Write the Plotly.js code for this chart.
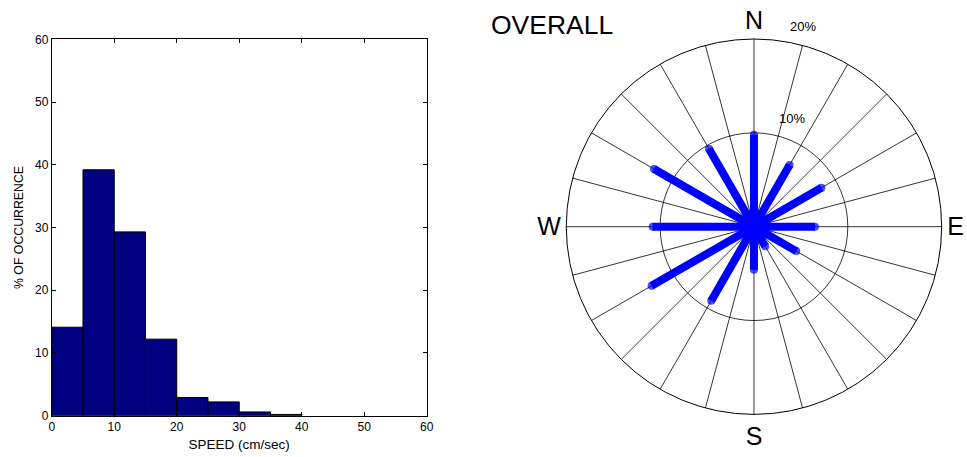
<!DOCTYPE html>
<html><head><meta charset="utf-8">
<script src="https://cdn.plot.ly/plotly-3.0.1.min.js"></script>
<style>html,body{margin:0;padding:0;background:#fff}#chart{width:967px;height:457px}</style>
</head><body><div id="chart"></div>
<script>
// Speed histogram (bin centres, cm/sec) and % of occurrence
const speedBinCenters = [2.5, 7.5, 12.5, 17.5, 22.5, 27.5, 32.5, 37.5];
const speedPercent    = [14.1, 39.2, 29.3, 12.2, 2.9, 2.2, 0.6, 0.2];
const speedTicks = [0, 10, 20, 30, 40, 50, 60];
const pctTicks   = [0, 10, 20, 30, 40, 50, 60];

// Direction rose (degrees clockwise from North) and % of occurrence
const dirAngles  = [0, 30, 60, 90, 120, 150, 180, 210, 240, 270, 300, 330];
const dirPercent = [9.8, 7.6, 8.3, 6.5, 5.2, 2.4, 4.6, 9.1, 12.6, 10.8, 12.3, 9.6];
const compassSpokes = [0,15,30,45,60,75,90,105,120,135,150,165,180,195,210,225,240,255,270,285,300,315,330,345];
const compassText   = ['N','','','','','','E','','','','','','S','','','','','','W','','','','',''];
const roseRings = [10, 20];
const roseRingText = ['10%', '20%'];

const FONT = 'Liberation Sans, Arial, sans-serif';

// build rose segments from centre out
const rR = [], rT = [], rS = [];
dirAngles.forEach((a, i) => {
  rR.push(0, dirPercent[i], null);
  rT.push(a, a, null);
  rS.push(0, 8, 0);
});

const traces = [
  {
    type: 'bar', x: speedBinCenters, y: speedPercent, width: 5,
    marker: {color: '#000080', line: {color: '#000000', width: 1}},
    xaxis: 'x', yaxis: 'y', hoverinfo: 'x+y'
  },
  {
    type: 'scatterpolar', r: rR, theta: rT, mode: 'lines+markers',
    connectgaps: false,
    line: {color: '#0000FF', width: 8},
    marker: {color: '#0000FF', size: rS, line: {width: 0}},
    subplot: 'polar'
  }
];

// radial ring labels placed just outside each ring, a little right of North
const ringAnn = roseRings.map((v, i) => ({
  text: roseRingText[i], xref: 'paper', yref: 'paper',
  x: i === 0 ? 0.8186 : 0.8305, y: i === 0 ? 0.741 : 0.941,
  xanchor: 'center', yanchor: 'middle', showarrow: false,
  font: {family: FONT, size: 13}
}));

const layout = {
  width: 967, height: 457,
  margin: {l: 0, r: 0, t: 0, b: 0},
  paper_bgcolor: '#fff', plot_bgcolor: '#fff',
  showlegend: false,
  font: {family: FONT, color: '#000', size: 11},
  bargap: 0,
  xaxis: {
    domain: [0.0535, 0.4413], range: [0, 60],
    tickvals: speedTicks, ticks: 'inside', ticklen: 4, tickcolor: '#000',
    showline: true, linecolor: '#000', linewidth: 1, mirror: 'ticks',
    showgrid: false, zeroline: false,
    tickfont: {family: FONT, size: 12},
    title: {text: 'SPEED (cm/sec)', font: {family: FONT, size: 13.5}, standoff: 6}
  },
  yaxis: {
    domain: [0.0904, 0.914], range: [0, 60],
    tickvals: pctTicks, ticks: 'inside', ticklen: 4, tickcolor: '#000',
    showline: true, linecolor: '#000', linewidth: 1, mirror: 'ticks',
    showgrid: false, zeroline: false,
    tickfont: {family: FONT, size: 12},
    title: {text: '% OF OCCURRENCE', font: {family: FONT, size: 12.3}, standoff: 8}
  },
  polar: {
    domain: {x: [0.5856, 0.9738], y: [0.0932, 0.9147]},
    bgcolor: '#fff',
    angularaxis: {
      rotation: 90, direction: 'clockwise',
      tickvals: compassSpokes, ticktext: compassText,
      ticks: '', showline: true, linecolor: '#000', linewidth: 1,
      showgrid: true, gridcolor: '#000', gridwidth: 0.8,
      tickfont: {family: FONT, size: 25}
    },
    radialaxis: {
      range: [0, 20], angle: 75,
      tickvals: roseRings, showticklabels: false,
      ticks: '', showline: false,
      showgrid: true, gridcolor: '#000', gridwidth: 0.8
    }
  },
  annotations: [
    {text: 'OVERALL', xref: 'paper', yref: 'paper', x: 0.5057, y: 0.945,
     xanchor: 'left', yanchor: 'middle', showarrow: false,
     font: {family: FONT, size: 26.5}}
  ].concat(ringAnn)
};

Plotly.newPlot('chart', traces, layout, {displayModeBar: false, staticPlot: true});
</script></body></html>
